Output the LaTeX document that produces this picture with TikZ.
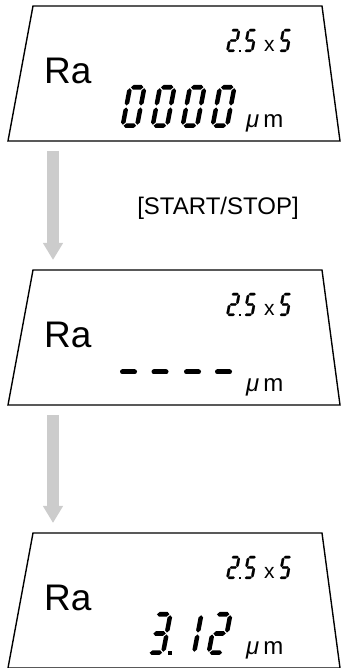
\documentclass[tikz,border=0pt]{standalone}
\usepackage{fontspec}
\setmainfont{Liberation Sans}
\usepackage{tikz}
\usetikzlibrary{positioning,arrows.meta,calc}

% seven-segment pieces, digit cell 0.88 x 2
\newcommand{\hseg}[3]{\path[lcdseg] (#1,#3) -- ++(0.105,0.105) -- (#2-0.105,#3+0.105) -- (#2,#3) -- (#2-0.105,#3-0.105) -- (#1+0.105,#3-0.105) -- cycle;}
\newcommand{\vseg}[3]{\path[lcdseg] (#1,#2) -- ++(0.105,0.105) -- (#1+0.105,#3-0.105) -- (#1,#3) -- (#1-0.105,#3-0.105) -- (#1-0.105,#2+0.105) -- cycle;}
\newcommand{\segA}{\hseg{0.15}{0.73}{1.895}}
\newcommand{\segG}{\hseg{0.15}{0.73}{1.0}}
\newcommand{\segD}{\hseg{0.15}{0.73}{0.105}}
\newcommand{\segF}{\vseg{0.105}{1.045}{1.85}}
\newcommand{\segE}{\vseg{0.105}{0.15}{0.955}}
\newcommand{\segB}{\vseg{0.775}{1.045}{1.85}}
\newcommand{\segC}{\vseg{0.775}{0.15}{0.955}}
% \lcd[options]{position}{scale}{segments}
\newcommand{\lcd}[4][]{\begin{scope}[shift={#2}, xslant=0.19, scale=#3, #1]
  \foreach \s in {#4} {\csname seg\s\endcsname}
\end{scope}}

\begin{document}
\begin{tikzpicture}[
  x=1pt, y=1pt,
  panel/.style={draw, line width=1.4pt, line join=miter},
  lcdseg/.style={fill},
  thinlcd/.style={lcdseg/.style={fill, draw, line width=0.2pt, line join=round}},
  flow/.style={draw=black!20, line width=12pt, -{Triangle[length=17pt, width=19pt]}},
  param/.style={font=\fontsize{37}{37}\selectfont, inner sep=0pt, anchor=base west},
  unit/.style={font=\fontsize{24}{24}\selectfont, inner sep=0pt, anchor=base west},
  times/.style={font=\fontsize{21}{21}\selectfont, inner sep=0pt, anchor=base west},
  key/.style={font=\fontsize{24}{24}\selectfont, inner sep=0pt, anchor=base},
  dashseg/.style={line width=5pt, line cap=round}
]
\useasboundingbox (0,0) rectangle (342,668);

\foreach \i/\t in {1/662, 2/398, 3/135} {
  \draw[panel] (33,\t) coordinate (p\i tl) -- (322,\t) -- (340,\t-135) -- (8,\t-135) coordinate (p\i bl) -- cycle;
  \node[param] (ra\i) at (44,\t-78) {Ra};
  \node[unit] (um\i) at (246,\t-122) {{\itshape μ}\hspace{4pt}m};
  \lcd[thinlcd]{(226,\t-46)}{11.5}{A,B,G,E,D}
  \fill (238.5,\t-46) rectangle ++(2.4,2.4);
  \lcd[thinlcd]{(243,\t-46)}{11.5}{A,F,G,C,D}
  \node[times] (x\i) at (264,\t-46) {x};
  \lcd[thinlcd]{(278,\t-46)}{11.5}{A,F,G,C,D}
}

% first display: 0000
\foreach \xd in {120,150,180,210} {
  \lcd{(\xd,540)}{21.5}{A,B,C,D,E,F}
}

% second display: ----
\foreach \xd in {128.5,160,192.5,223.5}
  \draw[dashseg] (\xd-6,296) -- (\xd+6,296);

% third display: 3.12
\lcd{(146,13)}{21.5}{A,B,G,C,D}
\fill (168,13) rectangle ++(3.5,3.5);
\lcd{(177,13)}{21.5}{B,C}
\lcd{(206,13)}{21.5}{A,B,G,E,D}

\draw[flow] ([shift={(45,-10)}]p1bl) -- ([shift={(20,10)}]p2tl);
\draw[flow] ([shift={(45,-10)}]p2bl) -- ([shift={(20,10)}]p3tl);

\node[key] (start) at (218,453) {[START/STOP]};

\end{tikzpicture}
\end{document}
